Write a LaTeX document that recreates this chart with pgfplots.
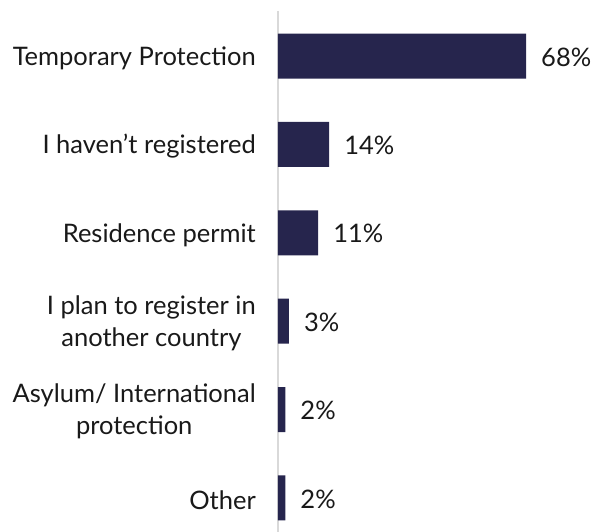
\documentclass[border=0pt]{standalone}
\usepackage{pgfplots}
\pgfplotsset{compat=1.18}
\usepackage{fontspec}
\setmainfont{Lato}
\definecolor{barnavy}{HTML}{26254D}
\definecolor{axisgray}{HTML}{D9D9D9}
\begin{document}
\fontsize{25.5}{31}\selectfont
\begin{tikzpicture}
\useasboundingbox (-278pt,0pt) rectangle (322pt,532pt);
\begin{axis}[
  scale only axis,
  width=321pt, height=521pt,
  xmin=0, xmax=88,
  ymin=-0.51, ymax=5.385,
  y dir=reverse,
  axis x line=none,
  axis y line=left,
  y axis line style={draw=axisgray, line width=1.5pt, -},
  ytick={0,1,2,3,4,5},
  yticklabels={Temporary Protection, I haven’t registered, Residence permit, {I plan to register in\\another country}, {Asylum/ International\\protection}, Other},
  major tick length=0pt,
  yticklabel style={anchor=east, align=center, inner sep=0pt, xshift=-22pt, yshift=-2pt, font=\fontsize{25.5}{32}\selectfont, text=black!90},
  xbar, bar width=45pt,
  clip=false,
  nodes near coords={\pgfplotspointmeta\%},
  nodes near coords style={anchor=west, inner sep=0pt, xshift=15pt, yshift=-1pt, font=\fontsize{25.5}{30}\selectfont, text=black!90},
  point meta=explicit symbolic,
]
\addplot[fill=barnavy, draw=none] coordinates {
  (68,0) [68]
  (14,1) [14]
  (11,2) [11]
  (3,3) [3]
  (2,4) [2]
  (2,5) [2]
};
\end{axis}
\end{tikzpicture}
\end{document}
